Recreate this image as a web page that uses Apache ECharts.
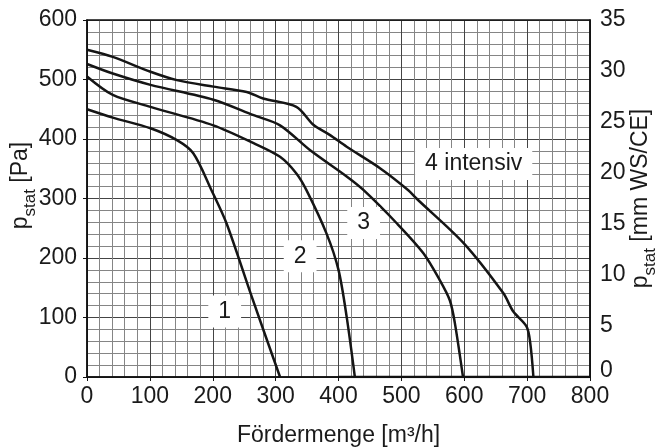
<!DOCTYPE html>
<html>
<head>
<meta charset="utf-8">
<script src="https://cdn.jsdelivr.net/npm/echarts@6/dist/echarts.min.js"></script>
<style>
  html, body { margin: 0; padding: 0; background: #fff; }
  #chart { width: 657px; height: 447px; }
</style>
</head>
<body>
<div id="chart"></div>
<script>
// Kennlinien (Fördermenge m3/h, p_stat Pa)
const curve1 = [[0, 450], [41, 436], [101, 418], [143, 398], [169, 376], [198, 314], [222, 258], [262, 135], [307, 0]];
const curve2 = [[0, 505], [41, 474], [101, 454], [201, 423], [265, 393], [307, 370], [333, 342], [349, 314], [381, 241], [400, 180], [413, 101], [426, 0]];
const curve3 = [[0, 526], [41, 510], [101, 491], [201, 466], [265, 440], [307, 423], [355, 381], [413, 337], [440, 314], [493, 258], [535, 208], [561, 163], [577, 129], [585, 91], [598, 0]];
const curve4 = [[0, 550], [41, 538], [101, 513], [143, 499], [201, 488], [254, 479], [280, 468], [333, 454], [360, 424], [386, 407], [413, 387], [466, 351], [511, 314], [524, 300], [599, 225], [662, 141], [678, 110], [699, 85], [705, 57], [710, 0]];
const baseLine = [[400, 0], [800, 0]];

// Beschriftungen der Kurven
const labelNames = ['1', '2', '3', '4 intensiv'];
const labelX = [219, 339, 440, 615];
const labelY = [110, 203, 259, 358];

const chart = echarts.init(document.getElementById('chart'));

const font = 'Liberation Sans, Arial, Helvetica, sans-serif';
const lineColor = '#151515';
const textColor = '#1a1a1a';

function curveSeries(data) {
    return {
        type: 'line',
        data: data,
        smooth: 0.3,
        showSymbol: false,
        lineStyle: { width: 2.5, color: lineColor },
        z: 5
    };
}

const labelData = [];
for (let i = 0; i < labelNames.length; i++) {
    labelData.push({ value: [labelX[i], labelY[i]], name: labelNames[i] });
}

const nameRich = {
    m: { fontFamily: font, fontSize: 23, color: textColor, lineHeight: 30, verticalAlign: 'top' },
    s: { fontFamily: font, fontSize: 17, color: textColor, lineHeight: 30, verticalAlign: 'bottom' }
};

const option = {
    backgroundColor: '#fff',
    animation: false,
    grid: { left: 87, right: 67, top: 20, bottom: 70, containLabel: false, outerBoundsMode: 'none' },
    xAxis: {
        type: 'value',
        min: 0,
        max: 800,
        interval: 100,
        name: 'Fördermenge [m³/h]',
        nameLocation: 'middle',
        nameGap: 47,
        nameMoveOverlap: false,
        nameTextStyle: { fontFamily: font, fontSize: 23, color: textColor },
        axisLine: { show: true, lineStyle: { color: '#111', width: 1.5 } },
        axisTick: { show: true, length: 4, lineStyle: { color: '#111' } },
        axisLabel: { fontFamily: font, fontSize: 23, color: textColor, margin: 8 },
        splitLine: { show: true, lineStyle: { color: '#444', width: 1 } },
        minorTick: { show: false, splitNumber: 5 },
        minorSplitLine: { show: true, lineStyle: { color: '#858585', width: 1 } }
    },
    yAxis: [
        {
            type: 'value',
            min: 0,
            max: 600,
            interval: 100,
            position: 'left',
            name: '{m|p}{s|stat}{m| [Pa]}',
            nameLocation: 'middle',
            nameGap: 48,
            nameMoveOverlap: false,
            nameRotate: 90,
            nameTextStyle: { rich: nameRich, padding: [0, 0, 0, 26] },
            axisLine: { show: true, lineStyle: { color: '#111', width: 1.5 } },
            axisTick: { show: true, length: 4, lineStyle: { color: '#111' } },
            axisLabel: { fontFamily: font, fontSize: 23, color: textColor, margin: 10 },
            splitLine: { show: true, lineStyle: { color: '#444', width: 1 } },
            minorTick: { show: false, splitNumber: 5 },
            minorSplitLine: { show: true, lineStyle: { color: '#858585', width: 1 } }
        },
        {
            type: 'value',
            min: 0,
            max: 35,
            interval: 5,
            position: 'right',
            name: '{m|p}{s|stat}{m| [mm WS/CE]}',
            nameLocation: 'middle',
            nameGap: 39,
            nameMoveOverlap: false,
            nameRotate: 90,
            nameTextStyle: { rich: nameRich },
            axisLine: { show: true, lineStyle: { color: '#111', width: 1.5 } },
            axisTick: { show: false },
            axisLabel: {
                fontFamily: font,
                fontSize: 23,
                color: textColor,
                margin: 10,
                formatter: function (v) {
                    return v === 0 ? '{z|0}' : String(v);
                },
                rich: {
                    z: { fontFamily: font, fontSize: 23, color: textColor, padding: [0, 0, 12, 0] }
                }
            },
            splitLine: { show: false }
        }
    ],
    series: [
        curveSeries(curve1),
        curveSeries(curve2),
        curveSeries(curve3),
        curveSeries(curve4),
        {
            type: 'line',
            data: baseLine,
            showSymbol: false,
            lineStyle: { width: 2.5, color: lineColor },
            z: 5
        },
        {
            type: 'scatter',
            data: labelData,
            symbolSize: 0,
            z: 10,
            itemStyle: { opacity: 1 },
            label: {
                show: true,
                position: 'inside',
                formatter: '{b}',
                fontFamily: font,
                fontSize: 23,
                color: textColor,
                backgroundColor: '#fff',
                padding: [5, 10, 4, 10]
            }
        }
    ],
    graphic: [
        {
            type: 'rect',
            shape: { x: 87, y: 20, width: 503, height: 357 },
            style: { fill: 'none', stroke: '#111', lineWidth: 1.5 },
            z: 20,
            silent: true
        }
    ]
};

chart.setOption(option);
</script>
</body>
</html>
